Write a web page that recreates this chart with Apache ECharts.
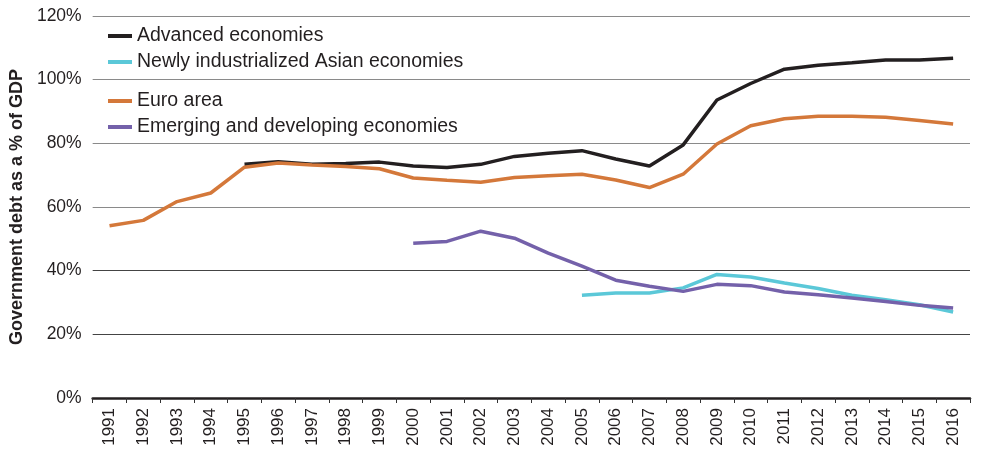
<!DOCTYPE html>
<html>
<head>
<meta charset="utf-8">
<script src="https://cdn.jsdelivr.net/npm/echarts@6/dist/echarts.min.js"></script>
<style>html,body{margin:0;padding:0;background:#fff;}#c{width:981px;height:451px;}</style>
</head>
<body>
<div id="c"></div>
<script>
const years = ['1991','1992','1993','1994','1995','1996','1997','1998','1999','2000','2001','2002','2003','2004','2005','2006','2007','2008','2009','2010','2011','2012','2013','2014','2015','2016'];
const yTicks = [0, 20, 40, 60, 80, 100, 120];
const advanced = ['-','-','-','-',73.4,74.2,73.4,73.7,74.1,72.9,72.4,73.4,75.9,76.9,77.7,75.1,72.9,79.5,93.6,98.8,103.3,104.5,105.3,106.2,106.2,106.7];
const asian = ['-','-','-','-','-','-','-','-','-','-','-','-','-','-',32.3,33.0,33.0,34.6,38.8,38.0,36.1,34.4,32.3,30.9,29.3,27.0];
const euro = [54.1,55.8,61.7,64.4,72.5,73.8,73.2,72.7,72.0,69.1,68.4,67.8,69.3,69.8,70.3,68.5,66.1,70.3,79.8,85.5,87.7,88.5,88.5,88.2,87.2,86.1];
const emerging = ['-','-','-','-','-','-','-','-','-',48.6,49.2,52.4,50.2,45.5,41.4,37.0,35.1,33.5,35.7,35.3,33.3,32.4,31.4,30.3,29.1,28.3];

const FONT = '"Liberation Sans", Arial, Helvetica, sans-serif';
const chart = echarts.init(document.getElementById('c'));
function line(name, data, color) {
  return {
    name, type: 'line', data, symbol: 'none', connectNulls: false,
    lineStyle: { color, width: 3.5 }, itemStyle: { color },
    z: 3
  };
}
const legendCommon = {
  orient: 'vertical', left: 108, padding: 0, itemWidth: 24, itemHeight: 4, itemGap: 6, icon: 'rect',
  textStyle: { fontFamily: FONT, fontSize: 19.5, color: '#231f20', lineHeight: 19 }
};
chart.setOption({
  animation: false,
  backgroundColor: '#fff',
  grid: { left: 92, right: 11, top: 16, bottom: 53 },
  legend: [
    Object.assign({}, legendCommon, { top: 26, data: ['Advanced economies', 'Newly industrialized Asian economies'] }),
    Object.assign({}, legendCommon, { top: 91, data: ['Euro area', 'Emerging and developing economies'] })
  ],
  xAxis: {
    type: 'category', data: years, boundaryGap: true,
    axisLine: { lineStyle: { color: '#231f20', width: 2.5 } },
    axisTick: { show: true, interval: 0, length: 5, lineStyle: { color: '#333', width: 1 } },
    axisLabel: { interval: 0, rotate: 90, fontFamily: FONT, fontSize: 17, color: '#231f20', margin: 10 }
  },
  yAxis: {
    type: 'value', min: yTicks[0], max: yTicks[yTicks.length - 1], interval: 20,
    name: 'Government debt as a % of GDP', nameLocation: 'middle', nameGap: 65,
    nameTextStyle: { fontFamily: FONT, fontSize: 18, fontWeight: 'bold', color: '#231f20' },
    axisLine: { show: false }, axisTick: { show: false },
    axisLabel: { fontFamily: FONT, fontSize: 17.5, color: '#231f20', margin: 11, formatter: v => v + '%' },
    splitLine: { lineStyle: { color: ['#231f20', '#444', '#444', '#8a8a8a', '#8a8a8a', '#8a8a8a', '#8a8a8a'], width: 1.2 } }
  },
  series: [
    line('Advanced economies', advanced, '#231f20'),
    line('Newly industrialized Asian economies', asian, '#5bc8d8'),
    line('Euro area', euro, '#d4783a'),
    line('Emerging and developing economies', emerging, '#7461aa')
  ]
});
</script>
</body>
</html>
